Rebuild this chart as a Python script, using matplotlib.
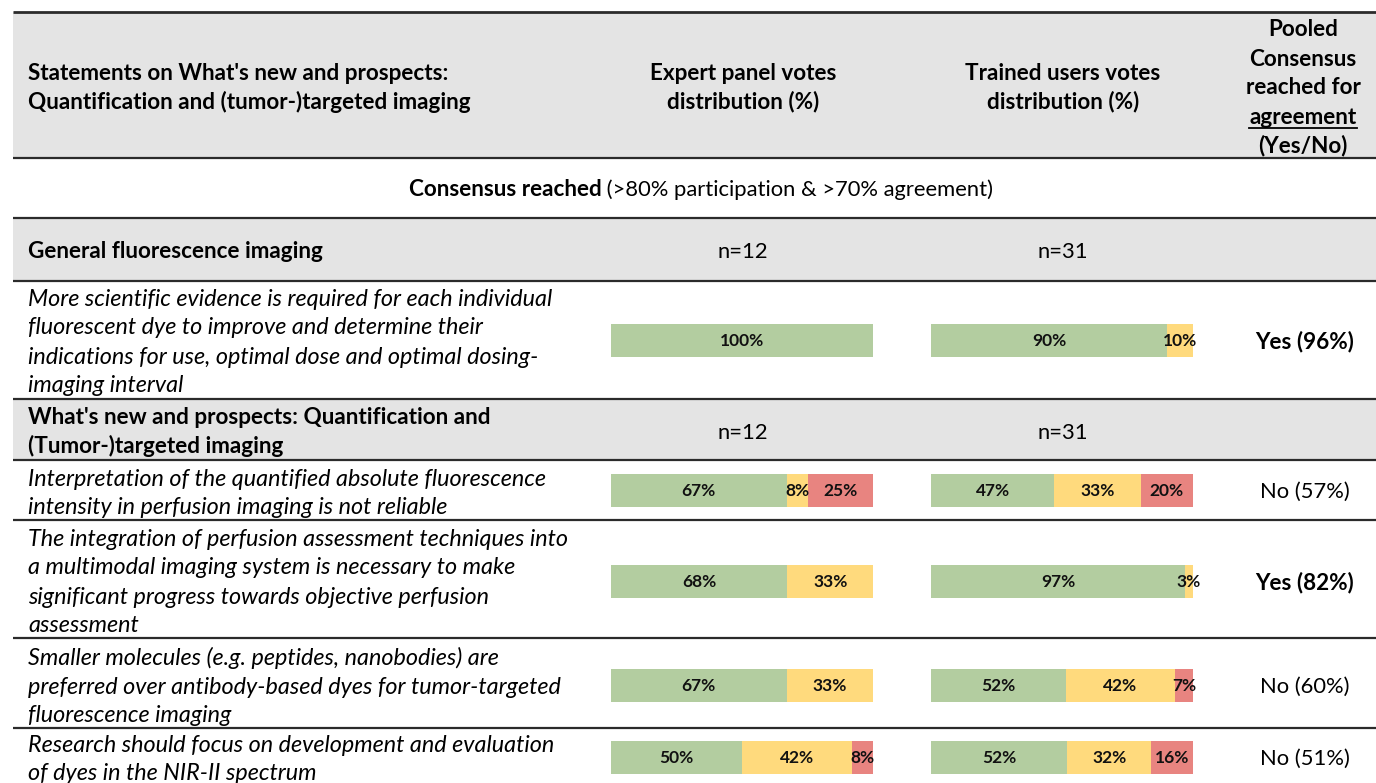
import matplotlib
matplotlib.use("Agg")
import matplotlib.pyplot as plt
from matplotlib.patches import Rectangle

plt.rcParams['font.family'] = ['Lato', 'DejaVu Sans']

# ---------------- data ----------------
header_statement = ["Statements on What's new and prospects:",
                    "Quantification and (tumor-)targeted imaging"]
header_expert = ["Expert panel votes", "distribution (%)"]
header_trained = ["Trained users votes", "distribution (%)"]
header_pooled = ["Pooled", "Consensus", "reached for", "agreement", "(Yes/No)"]
consensus_bold = "Consensus reached"
consensus_rest = " (>80% participation & >70% agreement)"

sections = [["General fluorescence imaging"],
            ["What's new and prospects: Quantification and",
             "(Tumor-)targeted imaging"]]
n_expert = ["n=12", "n=12"]
n_trained = ["n=31", "n=31"]

statements = [
    ["More scientific evidence is required for each individual",
     "fluorescent dye to improve and determine their",
     "indications for use, optimal dose and optimal dosing-",
     "imaging interval"],
    ["Interpretation of the quantified absolute fluorescence",
     "intensity in perfusion imaging is not reliable"],
    ["The integration of perfusion assessment techniques into",
     "a multimodal imaging system is necessary to make",
     "significant progress towards objective perfusion",
     "assessment"],
    ["Smaller molecules (e.g. peptides, nanobodies) are",
     "preferred over antibody-based dyes for tumor-targeted",
     "fluorescence imaging"],
    ["Research should focus on development and evaluation",
     "of dyes in the NIR-II spectrum"],
]
# agree, neutral, disagree (%)
expert_votes = [[100, 0, 0], [67, 8, 25], [68, 33, 0], [67, 33, 0], [50, 42, 8]]
trained_votes = [[90, 10, 0], [47, 33, 20], [97, 3, 0], [52, 42, 7], [52, 32, 16]]
pooled = ["Yes (96%)", "No (57%)", "Yes (82%)", "No (60%)", "No (51%)"]
pooled_bold = [True, False, True, False, False]

# ---------------- layout ----------------
W, H = 1376, 783
colors = ["#B3CDA0", "#FFDA7D", "#E88480"]
grey = "#E4E4E4"
line_col = "#2b2b2b"
FS_N = 15.8   # normal
FS_B = 16.2   # bold
FS_I = 16.8   # italic
DY = 2        # small vertical text offset

fig = plt.figure(figsize=(W / 100, H / 100), dpi=100)
ax = fig.add_axes([0, 0, 1, 1])
ax.set_xlim(0, W)
ax.set_ylim(H, 0)
ax.axis("off")

x_left = 13
x_text = 28
cx_exp, cx_tr, cx_pool = 743, 1063, 1303

# grey bands
for (y0, y1) in [(12, 158), (218, 281), (399, 460)]:
    ax.add_patch(Rectangle((x_left, y0), W - x_left, y1 - y0, color=grey, lw=0, zorder=0))
# horizontal rules
for y in [12, 158, 218, 281, 399, 460, 520, 638, 728]:
    ax.plot([x_left, W], [y, y], color=line_col, lw=1.6 if y != 12 else 2.0, zorder=2,
            solid_capstyle="butt")

# header
ax.text(x_text, 72 + DY, header_statement[0], fontsize=FS_B, fontweight="bold", va="center")
ax.text(x_text, 100 + DY, header_statement[1], fontsize=FS_B, fontweight="bold", va="center")
for i, t in enumerate(header_expert):
    ax.text(cx_exp, 72 + 28 * i + DY, t, fontsize=FS_B, fontweight="bold", ha="center", va="center")
for i, t in enumerate(header_trained):
    ax.text(cx_tr, 72 + 28 * i + DY, t, fontsize=FS_B, fontweight="bold", ha="center", va="center")
fig.canvas.draw()
renderer = fig.canvas.get_renderer()
for i, t in enumerate(header_pooled):
    yy = 28 + 29 * i + DY
    tx = ax.text(cx_pool, yy, t, fontsize=FS_B, fontweight="bold", ha="center", va="center")
    if t == "agreement":
        bb = tx.get_window_extent(renderer)
        ax.plot([bb.x0, bb.x1], [yy + 11, yy + 11], color="black", lw=1.3)

# consensus row
t1 = ax.text(0, 188 + DY, consensus_bold, fontsize=FS_B, fontweight="bold", va="center")
t2 = ax.text(0, 188 + DY, consensus_rest, fontsize=FS_N, va="center")
w1 = t1.get_window_extent(renderer).width
w2 = t2.get_window_extent(renderer).width
start = 701 - (w1 + w2) / 2
t1.set_x(start)
t2.set_x(start + w1)

# section headers
sec_y = [[250], [416, 444]]
sec_n_y = [250, 431]
for s, ys, ny, ne, nt in zip(sections, sec_y, sec_n_y, n_expert, n_trained):
    for t, y in zip(s, ys):
        ax.text(x_text, y + DY, t, fontsize=FS_B, fontweight="bold", va="center")
    ax.text(cx_exp, ny + DY, ne, fontsize=FS_N, ha="center", va="center")
    ax.text(cx_tr, ny + DY, nt, fontsize=FS_N, ha="center", va="center")

# statements
stmt_y = [[298, 326, 355, 384], [477, 506], [537, 566, 595, 624], [656, 685, 714], [744, 772]]
bar_y = [340, 490, 581, 685, 757]
for s, ys, by, p, pb in zip(statements, stmt_y, bar_y, pooled, pooled_bold):
    for t, y in zip(s, ys):
        ax.text(x_text, y + DY, t, fontsize=FS_I, fontstyle="italic", va="center")
    ax.text(cx_pool + 2, by + DY, p, fontsize=FS_B if pb else FS_N,
            fontweight="bold" if pb else "normal", ha="center", va="center")

# bar axes
def bar_axes(x0, x1, votes):
    bax = fig.add_axes([x0 / W, 0, (x1 - x0) / W, 1])
    bax.set_xlim(0, 100)
    bax.set_ylim(H, 0)
    bax.axis("off")
    bax.patch.set_alpha(0)
    for row, yc in zip(votes, bar_y):
        total = sum(row)
        left = 0
        for v, c in zip(row, colors):
            if v == 0:
                continue
            w = v / total * 100
            bax.barh(yc, w, left=left, height=33, color=c, edgecolor="none")
            bax.text(left + w / 2, yc + 1, f"{v}%", fontsize=12.5, fontweight="bold",
                     ha="center", va="center", color="#111111")
            left += w
    return bax

bar_axes(611, 873, expert_votes)
bar_axes(931, 1193, trained_votes)

fig.savefig("out.png", dpi=100)
